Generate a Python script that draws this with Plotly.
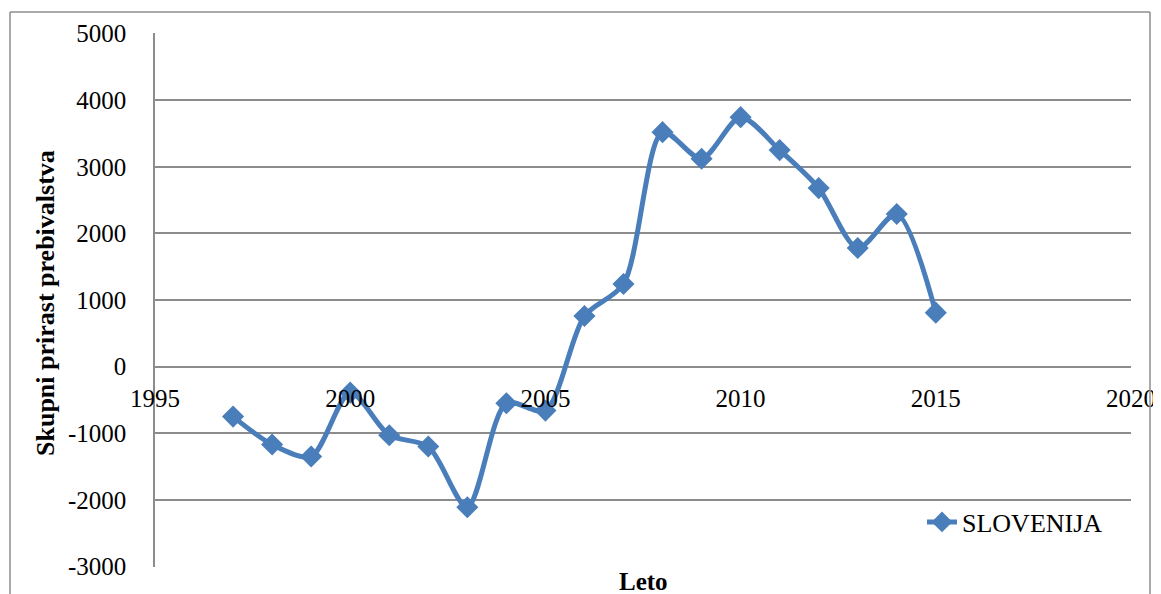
import plotly.graph_objects as go

years = [1997, 1998, 1999, 2000, 2001, 2002, 2003, 2004, 2005, 2006,
         2007, 2008, 2009, 2010, 2011, 2012, 2013, 2014, 2015]
growth = [-750, -1170, -1350, -390, -1030, -1200, -2110, -550, -660, 760,
          1240, 3520, 3120, 3745, 3250, 2680, 1780, 2290, 810]
series_name = "SLOVENIJA"
x_ticks = [1995, 2000, 2005, 2010, 2015, 2020]
y_ticks = [-3000, -2000, -1000, 0, 1000, 2000, 3000, 4000, 5000]
y_ticktext = ["-3000", "-2000", "-1000", "0", "1000", "2000", "3000", "4000", "5000"]
x_title = "Leto"
y_title = "Skupni prirast prebivalstva"

FONT = "Liberation Serif, Times New Roman, serif"
BLUE = "#4A7EBB"
GRID = "#8C8C8C"

# page has an 8px body margin; figure occupies window pixels 8..1161, 8..594
W, H = 1153, 586
L, R, T, B = 147, 30, 25, 27
PW = W - L - R
PH = H - T - B


def px_x(wx):
    return (wx - 8 - L) / PW


def px_y(wy):
    return (H - B - (wy - 8)) / PH


fig = go.Figure()
fig.add_trace(go.Scatter(
    x=years, y=growth, name=series_name, mode="lines+markers",
    line=dict(color=BLUE, width=5, shape="spline", smoothing=0.8),
    marker=dict(symbol="diamond", size=17, color=BLUE),
))

frame = dict(color="#8C8C8C", width=1.5)
fig.update_layout(
    width=W, height=H,
    margin=dict(l=L, r=R, t=T, b=B, autoexpand=False),
    paper_bgcolor="white", plot_bgcolor="white",
    font=dict(family=FONT, size=25, color="black"),
    showlegend=True,
    legend=dict(x=px_x(922), y=px_y(522), xanchor="left", yanchor="middle",
                bgcolor="rgba(0,0,0,0)", font=dict(size=26, family=FONT)),
    xaxis=dict(range=[1995, 2020], tickvals=x_ticks, ticktext=[str(v) for v in x_ticks],
               showgrid=False, zeroline=False, showline=False,
               anchor="free", position=3000 / 8016, ticks="",
               ticklabelstandoff=14, automargin=False, ticklabeloverflow="allow"),
    yaxis=dict(range=[-3008, 5008], tickvals=y_ticks, ticktext=y_ticktext,
               showgrid=True, gridcolor=GRID, gridwidth=1.5,
               zeroline=False, showline=True, linecolor=GRID, linewidth=1.5,
               ticks="", ticklabelstandoff=22, automargin=False),
    annotations=[
        dict(text="<b>" + x_title + "</b>", xref="paper", yref="paper",
             x=px_x(643), y=px_y(581), xanchor="center", yanchor="middle",
             showarrow=False, font=dict(size=25, family=FONT, color="black")),
        dict(text="<b>" + y_title + "</b>", xref="paper", yref="paper",
             x=px_x(45), y=px_y(303), xanchor="center", yanchor="middle",
             showarrow=False, textangle=-90,
             font=dict(size=26, family=FONT, color="black")),
    ],
    shapes=[
        dict(type="line", xref="paper", yref="paper", x0=px_x(10), x1=px_x(1150),
             y0=px_y(12), y1=px_y(12), line=frame),
        dict(type="line", xref="paper", yref="paper", x0=px_x(10), x1=px_x(10),
             y0=px_y(12), y1=px_y(600), line=frame),
        dict(type="line", xref="paper", yref="paper", x0=px_x(1150), x1=px_x(1150),
             y0=px_y(12), y1=px_y(600), line=frame),
    ],
)

fig.write_html("out.html")
